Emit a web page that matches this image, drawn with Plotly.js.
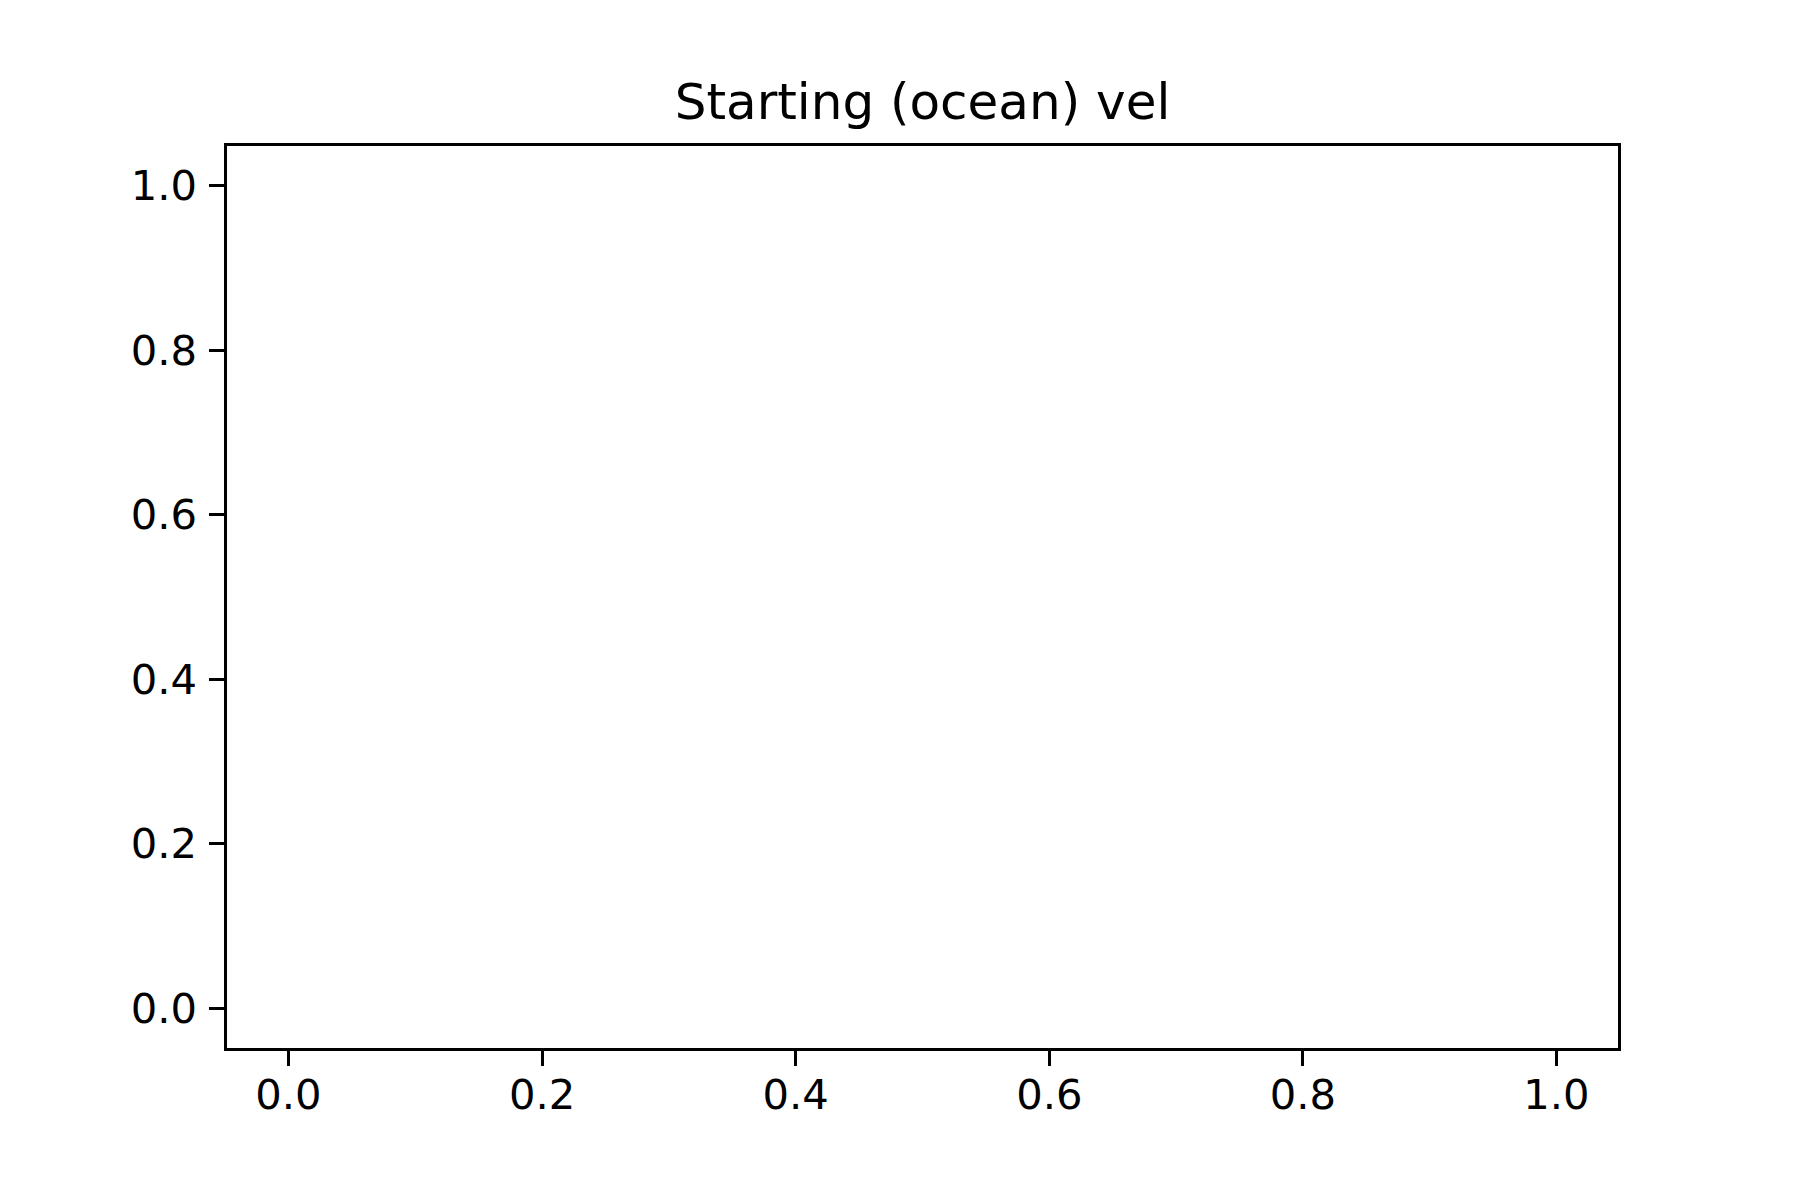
<!DOCTYPE html>
<html>
<head>
<meta charset="utf-8">
<script src="https://cdn.plot.ly/plotly-3.0.1.min.js"></script>
<style>html,body{margin:0;padding:0;background:#fff;}#chart{width:1800px;height:1200px;}</style>
</head>
<body>
<div id="chart"></div>
<script>
// The reference chart is an empty axes: no data were plotted.
const xValues = [];
const yValues = [];
const xTickVals = [0.0, 0.2, 0.4, 0.6, 0.8, 1.0];
const xTickText = ["0.0", "0.2", "0.4", "0.6", "0.8", "1.0"];
const yTickVals = [0.0, 0.2, 0.4, 0.6, 0.8, 1.0];
const yTickText = ["0.0", "0.2", "0.4", "0.6", "0.8", "1.0"];
const titleText = "Starting (ocean) vel";

const font = {family: "DejaVu Sans", size: 41.7, color: "#000"};

const axisCommon = {
  showgrid: false,
  zeroline: false,
  showline: true,
  linecolor: "#000",
  linewidth: 3,
  mirror: true,
  ticks: "outside",
  ticklen: 14.6,
  tickwidth: 3,
  tickcolor: "#000",
  tickfont: font,
  tickmode: "array",
  fixedrange: true
};

const data = [{
  type: "scatter",
  mode: "lines",
  x: xValues,
  y: yValues,
  showlegend: false,
  hoverinfo: "skip"
}];

const layout = {
  width: 1800,
  height: 1200,
  paper_bgcolor: "#fff",
  plot_bgcolor: "#fff",
  margin: {l: 226.5, r: 181.5, t: 145.5, b: 151.5, pad: 0},
  font: font,
  showlegend: false,
  title: {
    text: titleText,
    font: {family: "DejaVu Sans", size: 50, color: "#000"},
    x: 0.5,
    xref: "paper",
    xanchor: "center",
    yref: "container",
    y: 1 - 119 / 1200,
    yanchor: "bottom"
  },
  xaxis: Object.assign({}, axisCommon, {
    range: [-0.0485, 1.0485],
    tickvals: xTickVals,
    ticktext: xTickText,
    ticklabelstandoff: -7
  }),
  yaxis: Object.assign({}, axisCommon, {
    range: [-0.0482, 1.0482],
    tickvals: yTickVals,
    ticktext: yTickText,
    ticklabelstandoff: 4
  })
};

Plotly.newPlot("chart", data, layout, {displayModeBar: false, staticPlot: true});
</script>
</body>
</html>
